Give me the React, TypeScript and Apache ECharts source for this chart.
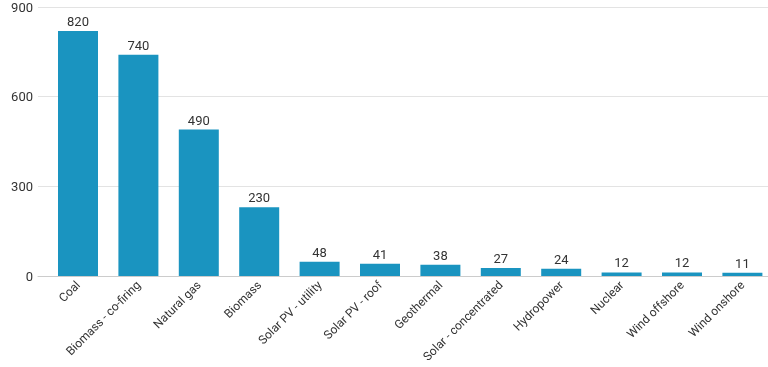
import React, { useEffect, useRef } from "react";
import * as echarts from "echarts";

const categories = [
  "Coal",
  "Biomass - co-firing",
  "Natural gas",
  "Biomass",
  "Solar PV - utility",
  "Solar PV - roof",
  "Geothermal",
  "Solar - concentrated",
  "Hydropower",
  "Nuclear",
  "Wind offshore",
  "Wind onshore",
];
const values = [820, 740, 490, 230, 48, 41, 38, 27, 24, 12, 12, 11];
const yTicks = [0, 300, 600, 900];

export default function App() {
  const ref = useRef<HTMLDivElement>(null);
  useEffect(() => {
    if (!ref.current) return;
    const chart = echarts.init(ref.current, null, { renderer: "svg" });
    const font = "Roboto, 'Noto Sans', sans-serif";
    chart.setOption({
      animation: false,
      textStyle: { fontFamily: font },
      grid: [
        { left: 38, right: 0, top: 7, bottom: 91, outerBoundsMode: "none" },
        { left: 47.8, width: 724.8, top: 7, bottom: 91, outerBoundsMode: "none" },
      ],
      xAxis: [
        {
          type: "category",
          gridIndex: 0,
          data: [""],
          axisLine: { show: true, lineStyle: { color: "#cccccc", width: 1 } },
          axisTick: { show: false },
          axisLabel: { show: false },
          splitLine: { show: false },
        },
        {
          type: "category",
          gridIndex: 1,
          data: categories,
          axisLine: { show: false },
          axisTick: { show: false },
          axisLabel: {
            interval: 0,
            rotate: 45,
            margin: 7,
            fontSize: 12,
            color: "#333333",
            fontFamily: font,
          },
        },
      ],
      yAxis: [
        {
          type: "value",
          gridIndex: 0,
          min: yTicks[0],
          max: yTicks[yTicks.length - 1],
          interval: 300,
          axisLine: { show: false },
          axisTick: { show: false },
          axisLabel: { margin: 5, fontSize: 13, color: "#333333", fontFamily: font },
          splitLine: { show: true, lineStyle: { color: "#e3e3e3", width: 1 } },
        },
        {
          type: "value",
          gridIndex: 1,
          min: yTicks[0],
          max: yTicks[yTicks.length - 1],
          interval: 300,
          show: false,
          splitLine: { show: false },
        },
      ],
      series: [
        {
          type: "bar",
          xAxisIndex: 1,
          yAxisIndex: 1,
          data: values,
          barWidth: 40,
          itemStyle: { color: "#1a94c0" },
          label: {
            show: true,
            position: "top",
            distance: 3,
            fontSize: 13,
            color: "#333333",
            fontFamily: font,
          },
        },
      ],
    });
    return () => chart.dispose();
  }, []);
  return (
    <div
      ref={ref}
      style={{ position: "fixed", left: 0, top: 0, width: 768, height: 367 }}
    />
  );
}
